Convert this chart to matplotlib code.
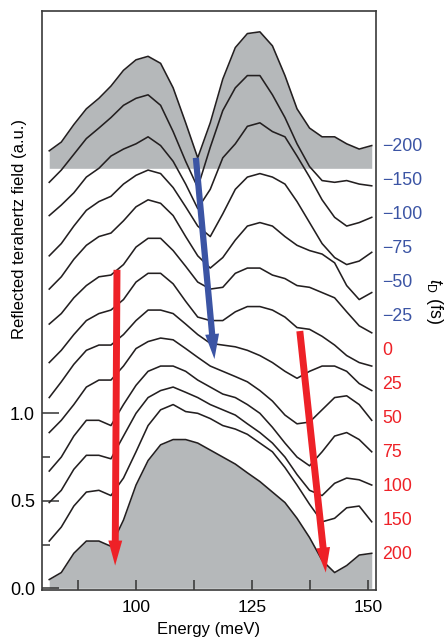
import matplotlib.pyplot as plt
from matplotlib.transforms import blended_transform_factory

plt.rcParams['font.family'] = ['Liberation Sans', 'DejaVu Sans']
plt.rcParams['mathtext.fontset'] = 'custom'
plt.rcParams['mathtext.it'] = 'Liberation Sans:italic'
plt.rcParams['mathtext.rm'] = 'Liberation Sans'

# photon energy (meV), common to all traces
energy = [81.3, 83.9, 86.6, 89.3, 92.0, 94.6, 97.3, 100.0, 102.6, 105.3, 108.0, 110.7, 113.3, 116.0,
          118.7, 121.4, 124.0, 126.7, 129.4, 132.1, 134.7, 137.4, 140.1, 142.8, 145.4, 148.1, 150.8]

# reflected THz field (offset traces), one per delay t_D
field_m200 = [2.50, 2.55, 2.65, 2.74, 2.80, 2.87, 2.96, 3.02, 3.04, 3.00, 2.86, 2.66, 2.46, 2.66,
              2.91, 3.09, 3.17, 3.18, 3.10, 2.93, 2.74, 2.63, 2.58, 2.58, 2.54, 2.51, 2.53]
field_m150 = [2.32, 2.39, 2.48, 2.57, 2.63, 2.69, 2.76, 2.80, 2.82, 2.76, 2.61, 2.44, 2.29, 2.52,
              2.73, 2.86, 2.93, 2.93, 2.82, 2.69, 2.54, 2.41, 2.33, 2.32, 2.33, 2.31, 2.30]
field_m100 = [2.13, 2.19, 2.26, 2.35, 2.40, 2.47, 2.51, 2.54, 2.58, 2.53, 2.44, 2.31, 2.17, 2.28,
              2.46, 2.54, 2.64, 2.66, 2.61, 2.58, 2.47, 2.35, 2.22, 2.12, 2.07, 2.09, 2.12]
field_m75 = [1.90, 1.97, 2.07, 2.16, 2.21, 2.24, 2.31, 2.36, 2.39, 2.37, 2.29, 2.18, 2.07, 2.01,
             2.14, 2.28, 2.35, 2.37, 2.35, 2.31, 2.21, 2.09, 1.97, 1.89, 1.85, 1.87, 1.92]
field_m50 = [1.71, 1.78, 1.88, 1.96, 2.01, 2.03, 2.10, 2.18, 2.22, 2.20, 2.13, 2.01, 1.90, 1.83,
             1.89, 1.99, 2.07, 2.09, 2.07, 2.01, 1.96, 1.93, 1.91, 1.86, 1.73, 1.65, 1.69]
field_m25 = [1.51, 1.57, 1.66, 1.73, 1.78, 1.79, 1.85, 1.95, 2.00, 2.00, 1.93, 1.84, 1.75, 1.71,
             1.72, 1.80, 1.83, 1.83, 1.79, 1.77, 1.73, 1.72, 1.69, 1.66, 1.58, 1.50, 1.46]
field_0 = [1.29, 1.36, 1.45, 1.53, 1.57, 1.59, 1.65, 1.75, 1.80, 1.80, 1.74, 1.64, 1.55, 1.53,
           1.53, 1.58, 1.61, 1.61, 1.59, 1.55, 1.49, 1.48, 1.44, 1.39, 1.33, 1.29, 1.27]
field_25 = [1.09, 1.18, 1.28, 1.36, 1.39, 1.39, 1.45, 1.53, 1.59, 1.59, 1.57, 1.51, 1.45, 1.40,
            1.39, 1.38, 1.36, 1.33, 1.29, 1.24, 1.20, 1.24, 1.27, 1.27, 1.24, 1.17, 1.13]
field_50 = [0.89, 0.96, 1.05, 1.15, 1.19, 1.19, 1.27, 1.37, 1.41, 1.43, 1.42, 1.37, 1.32, 1.27,
            1.24, 1.21, 1.18, 1.13, 1.07, 0.99, 0.94, 0.95, 1.02, 1.09, 1.10, 1.05, 0.96]
field_75 = [0.67, 0.75, 0.87, 0.96, 0.96, 0.93, 1.05, 1.16, 1.24, 1.27, 1.27, 1.24, 1.19, 1.15,
            1.11, 1.09, 1.05, 1.00, 0.92, 0.83, 0.75, 0.70, 0.78, 0.87, 0.89, 0.85, 0.78]
field_100 = [0.49, 0.56, 0.68, 0.76, 0.76, 0.74, 0.87, 1.00, 1.09, 1.13, 1.15, 1.12, 1.09, 1.05,
             1.02, 0.99, 0.94, 0.89, 0.83, 0.75, 0.65, 0.56, 0.53, 0.60, 0.63, 0.62, 0.59]
field_150 = [0.27, 0.35, 0.47, 0.55, 0.56, 0.53, 0.63, 0.78, 0.93, 1.02, 1.05, 1.01, 1.00, 0.97,
             0.93, 0.91, 0.88, 0.83, 0.78, 0.69, 0.59, 0.48, 0.38, 0.40, 0.46, 0.47, 0.38]
field_200 = [0.05, 0.09, 0.20, 0.27, 0.27, 0.24, 0.39, 0.59, 0.73, 0.82, 0.85, 0.85, 0.83, 0.79,
             0.75, 0.71, 0.66, 0.61, 0.55, 0.49, 0.40, 0.29, 0.16, 0.09, 0.13, 0.19, 0.20]

delays = [-200, -150, -100, -75, -50, -25, 0, 25, 50, 75, 100, 150, 200]
band_floor = 2.40  # lower edge of the grey band under the -200 fs trace

# arrows (energy, field): start -> tip
blue_arrow = [(112.9, 2.46), (116.9, 1.31)]
red_arrow_left = [(95.9, 1.82), (95.5, 0.13)]
red_arrow_right = [(135.3, 1.47), (140.9, 0.09)]

traces = [field_m200, field_m150, field_m100, field_m75, field_m50, field_m25, field_0,
          field_25, field_50, field_75, field_100, field_150, field_200]

grey = '#b5b8ba'
blue = '#3b54a4'
red = '#ee2127'
ink = '#231f20'

fig = plt.figure(figsize=(4.45, 6.38), dpi=100)
ax = fig.add_axes([42 / 445, 48 / 638, 334 / 445, 579 / 638])

ax.fill_between(energy, band_floor, field_m200, color=grey, lw=0, zorder=1)
ax.fill_between(energy, 0, field_200, color=grey, lw=0, zorder=1)
for tr in traces:
    ax.plot(energy, tr, color=ink, lw=1.15, zorder=2)

for (x0, y0), (x1, y1), c, tw in [(*blue_arrow, blue, 0.45), (*red_arrow_left, red, 0.5),
                                   (*red_arrow_right, red, 0.5)]:
    ax.annotate('', xy=(x1, y1), xytext=(x0, y0), zorder=4,
                arrowprops=dict(arrowstyle=f'simple,head_length=1.8,head_width=1.0,tail_width={tw}',
                                mutation_scale=10, color=c, lw=0, shrinkA=0, shrinkB=0))

# delay labels on the right
trans = blended_transform_factory(ax.transAxes, ax.transData)
label_top, label_step = 2.523, 0.1943
for i, d in enumerate(delays):
    txt = str(d).replace('-', '\u2212')
    ax.text(1.019, label_top - i * label_step, txt, transform=trans, ha='left', va='center',
            fontsize=12.8, color=blue if d < 0 else red)
fig.text(435 / 445, 1 - 301 / 638, '$t_\\mathrm{D}$ (fs)', rotation=-90, ha='center', va='center',
         fontsize=12.8)

ax.set_xlim(79.74, 151.72)
ax.set_ylim(-0.0097, 3.299)
ax.set_xticks([100, 125, 150])
ax.set_xticks([87.5, 112.5, 137.5], minor=True)
ax.set_yticks([0, 0.5, 1.0])
ax.set_yticks([0.25, 0.75], minor=True)
ax.set_yticklabels(['0.0', '0.5', '1.0'])
ax.tick_params(axis='both', which='both', direction='in', color='#333333')
ax.tick_params(axis='x', which='both', length=7, width=1.1, pad=7.5, labelsize=12.5)
ax.tick_params(axis='y', which='major', length=12, width=1.1, pad=5, labelsize=13)
ax.tick_params(axis='y', which='minor', length=6, width=1.1)
for s in ax.spines.values():
    s.set_linewidth(1.2)
    s.set_color('#3a3a3a')

ax.set_xlabel('Energy (meV)', fontsize=12, labelpad=5)
ax.set_ylabel('Reflected terahertz field (a.u.)', fontsize=12)
ax.yaxis.set_label_coords(-0.045, 0.623)

fig.savefig('out.png', dpi=100)
